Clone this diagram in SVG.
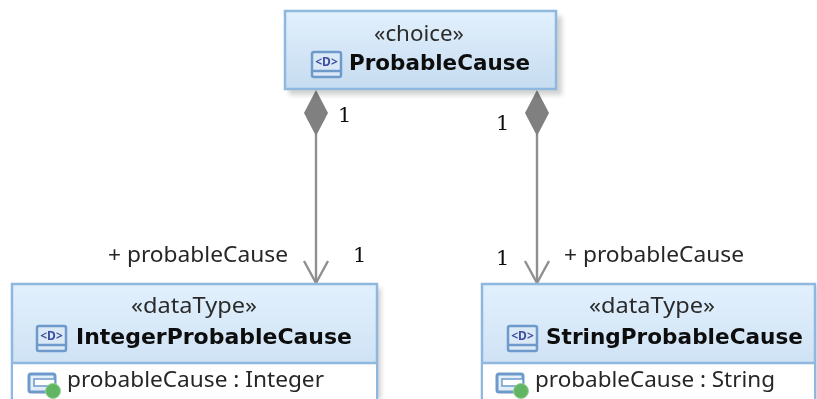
<svg xmlns="http://www.w3.org/2000/svg" width="817" height="399" viewBox="0 0 817 399">
<style>
text{font-family:"Noto Sans","DejaVu Sans",sans-serif;fill:#222}
.st{font-size:22px;fill:#2c2c2c}
.nm{font-family:"DejaVu Sans",sans-serif;font-size:22px;font-weight:bold;fill:#0c0c0c}
.at{font-size:22px;fill:#262626}
.lb{font-size:22px;fill:#262626}
.mu{font-family:"DejaVu Serif","Liberation Serif",serif;font-size:21px;fill:#111}
.box{fill:url(#g);stroke:#8fb8de;stroke-width:2.5}
.sh{fill:#000;opacity:.18;filter:url(#s)}
.ic{fill:#dbe9f7;stroke:#6d9acb;stroke-width:2.5}
.ln{fill:none;stroke:#8f8f8f;stroke-width:2.4}
</style>
<defs>
<linearGradient id="g" x1="0" y1="0" x2="0" y2="1"><stop offset="0" stop-color="#e2f0fd"/><stop offset="1" stop-color="#c6dcf0"/></linearGradient>
<filter id="s" x="-5%" y="-15%" width="110%" height="130%"><feGaussianBlur stdDeviation="2.5"/></filter>
<filter id="b" x="-2%" y="-2%" width="104%" height="104%"><feGaussianBlur stdDeviation="0.65"/></filter>
<g id="dicon"><rect x="0" y="0" width="29" height="25" rx="2" class="ic"/><line x1="1" y1="19" x2="28" y2="19" stroke="#6d9acb" stroke-width="2.5"/><text x="14.5" y="14" font-size="12" font-weight="bold" text-anchor="middle" style="fill:#3a4fa0">&lt;D&gt;</text></g>
<g id="aicon"><rect x="0" y="0" width="26" height="18" rx="2" fill="#e4eefa" stroke="#6d9acb" stroke-width="3"/><rect x="5" y="5" width="21" height="7" fill="#fff" stroke="#6d9acb" stroke-width="1.5"/><circle cx="24" cy="17" r="7.5" fill="#62b562" stroke="#9ad49a" stroke-width="1"/></g>
</defs>
<g filter="url(#b)">
<g id="connectors">
<g id="c1"><line class="ln" x1="316" y1="134" x2="316" y2="283"/><path d="M316 90L328 113L316 136L304 113Z" fill="#808080"/><path class="ln" d="M304 261L316 283L328 261"/></g>
<g id="c2"><line class="ln" x1="537" y1="134" x2="537" y2="283"/><path d="M537 90L549 113L537 136L525 113Z" fill="#808080"/><path class="ln" d="M525 261L537 283L549 261"/></g>
<text class="mu" x="338" y="122">1</text>
<text class="mu" x="496" y="130">1</text>
<text class="lb" x="108" y="262" textLength="180" lengthAdjust="spacingAndGlyphs">+ probableCause</text>
<text class="mu" x="353" y="262">1</text>
<text class="mu" x="496" y="265">1</text>
<text class="lb" x="564" y="262" textLength="180" lengthAdjust="spacingAndGlyphs">+ probableCause</text>
</g>
<g id="ProbableCause">
<rect class="sh" x="289" y="16" width="273" height="79"/>
<rect class="box" x="285" y="11" width="271" height="78"/>
<text class="st" x="374" y="41" textLength="90" lengthAdjust="spacingAndGlyphs">«choice»</text>
<use href="#dicon" x="312" y="52"/>
<text class="nm" x="349" y="70" textLength="181" lengthAdjust="spacingAndGlyphs">ProbableCause</text>
</g>
<g id="IntegerProbableCause">
<rect class="sh" x="15" y="288" width="366" height="111"/>
<rect class="box" x="12" y="284" width="365" height="117"/>
<rect x="13" y="363" width="363" height="38" fill="#fff"/>
<line x1="12" y1="363" x2="377" y2="363" stroke="#8fb8de" stroke-width="2.5"/>
<text class="st" x="131" y="313" textLength="126" lengthAdjust="spacingAndGlyphs">«dataType»</text>
<use href="#dicon" x="37" y="326"/>
<text class="nm" x="76" y="344" textLength="276" lengthAdjust="spacingAndGlyphs">IntegerProbableCause</text>
<use href="#aicon" x="29" y="374"/>
<text class="at" x="67" y="387" textLength="257" lengthAdjust="spacingAndGlyphs">probableCause : Integer</text>
</g>
<g id="StringProbableCause">
<rect class="sh" x="485" y="288" width="332" height="111"/>
<rect class="box" x="482" y="284" width="333" height="117"/>
<rect x="483" y="363" width="331" height="38" fill="#fff"/>
<line x1="482" y1="363" x2="815" y2="363" stroke="#8fb8de" stroke-width="2.5"/>
<text class="st" x="589" y="313" textLength="126" lengthAdjust="spacingAndGlyphs">«dataType»</text>
<use href="#dicon" x="508" y="326"/>
<text class="nm" x="546" y="344" textLength="257" lengthAdjust="spacingAndGlyphs">StringProbableCause</text>
<use href="#aicon" x="497" y="374"/>
<text class="at" x="535" y="387" textLength="240" lengthAdjust="spacingAndGlyphs">probableCause : String</text>
</g>
</g>
</svg>
